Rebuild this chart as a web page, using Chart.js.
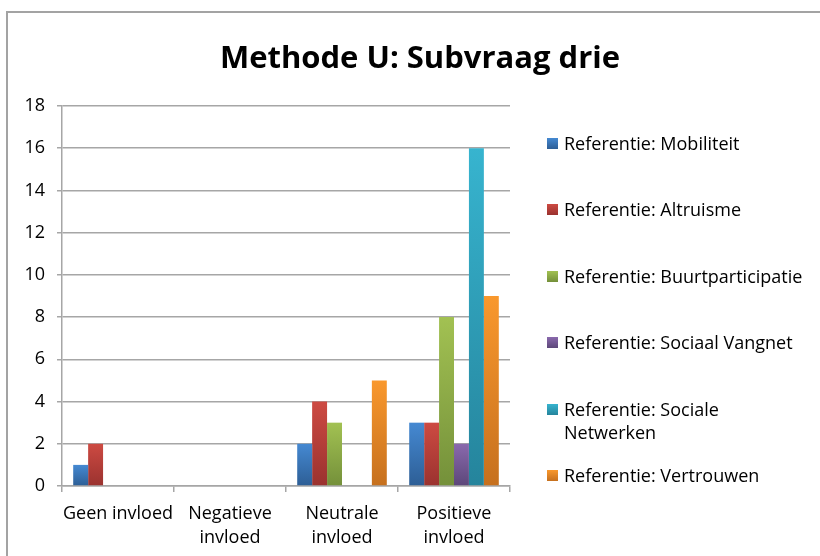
<!DOCTYPE html>
<html>
<head>
<meta charset="utf-8">
<script src="https://cdn.jsdelivr.net/npm/chart.js@4.4.0/dist/chart.umd.min.js"></script>
<style>
    body { margin: 0; background: #fff; overflow: hidden; }
    #wrap { position: relative; width: 820px; height: 556px; overflow: hidden; }
    #frame { position: absolute; left: 6px; top: 11px; width: 900px; height: 700px; border: 2px solid #a3a3a3; box-sizing: border-box; }
    #c { position: absolute; left: 0; top: 0; }
    #title { position: absolute; left: 0; width: 840px; top: 36px; text-align: center; font-family: 'Open Sans', sans-serif; font-weight: bold; font-size: 31px; line-height: 40px; color: #000; }
    #legend { position: absolute; left: 547px; top: 0; font-family: 'Open Sans', sans-serif; font-size: 18px; color: #000; }
    .item { position: absolute; left: 0; width: 270px; }
    .sw { position: absolute; left: 0; top: 1px; width: 11px; height: 11px; }
    .txt { position: absolute; left: 17px; top: -5px; width: 246px; line-height: 23px; }
</style>
</head>
<body>
<div id="wrap">
    <div id="frame"></div>
    <canvas id="c" width="820" height="556"></canvas>
    <div id="title">Methode U: Subvraag drie</div>
    <div id="legend"></div>
</div>
<script>
// Data
const categories = ['Geen invloed', ['Negatieve', 'invloed'], ['Neutrale', 'invloed'], ['Positieve', 'invloed']];
const seriesNames = [
    'Referentie: Mobiliteit',
    'Referentie: Altruisme',
    'Referentie: Buurtparticipatie',
    'Referentie: Sociaal Vangnet',
    'Referentie: Sociale Netwerken',
    'Referentie: Vertrouwen'
];
const mobiliteit = [1, 0, 2, 3];
const altruisme = [2, 0, 4, 3];
const buurtparticipatie = [0, 0, 3, 8];
const sociaalVangnet = [0, 0, 0, 2];
const socialeNetwerken = [0, 0, 0, 16];
const vertrouwen = [0, 0, 5, 9];
const yTicks = [0, 2, 4, 6, 8, 10, 12, 14, 16, 18];

// top / bottom gradient colours per series
const colors = [
    ['#4589d2', '#2d5e95'],
    ['#cd4a42', '#9a322f'],
    ['#a2c152', '#74903a'],
    ['#8a69ad', '#5c4779'],
    ['#37b4cf', '#25849c'],
    ['#f9982d', '#c6701e']
];
const seriesValues = [mobiliteit, altruisme, buurtparticipatie, sociaalVangnet, socialeNetwerken, vertrouwen];

function barGradient(ctx, i) {
    const chart = ctx.chart;
    const ys = chart.scales.y;
    if (!chart.chartArea || !ys || ctx.raw === undefined) return colors[i][0];
    const top = ys.getPixelForValue(ctx.raw);
    const bottom = ys.getPixelForValue(0);
    if (!(bottom > top)) return colors[i][0];
    const g = chart.ctx.createLinearGradient(0, top, 0, bottom);
    g.addColorStop(0, colors[i][0]);
    g.addColorStop(1, colors[i][1]);
    return g;
}

const datasets = seriesNames.map((name, i) => ({
    label: name,
    data: seriesValues[i],
    backgroundColor: (ctx) => barGradient(ctx, i),
    borderWidth: 0,
    categoryPercentage: 0.8,
    barPercentage: 1.0
}));

const tickFont = { family: "'Open Sans', sans-serif", size: 18, lineHeight: '24px' };

new Chart(document.getElementById('c'), {
    type: 'bar',
    data: { labels: categories, datasets: datasets },
    options: {
        responsive: false,
        animation: false,
        layout: { padding: { left: 0, right: 310, top: 106, bottom: 0 } },
        plugins: {
            legend: { display: false },
            tooltip: { enabled: false }
        },
        scales: {
            y: {
                min: 0,
                max: 18,
                afterBuildTicks: (axis) => { axis.ticks = yTicks.map(v => ({ value: v })); },
                afterFit: (axis) => { axis.width = 62; },
                grid: { color: '#a6a6a6', lineWidth: 1.5, tickLength: 5, drawTicks: true },
                border: { display: true, color: '#a6a6a6', width: 1.5 },
                ticks: { color: '#000', font: tickFont, padding: 12 }
            },
            x: {
                afterFit: (axis) => { axis.height = 70; },
                grid: { drawOnChartArea: false, drawTicks: true, tickLength: 6, offset: true, color: '#a6a6a6', lineWidth: 1.5 },
                border: { display: true, color: '#a6a6a6', width: 1.5 },
                ticks: { color: '#000', font: tickFont, padding: 10, maxRotation: 0, autoSkip: false }
            }
        }
    }
});

// Legend
const legend = document.getElementById('legend');
seriesNames.forEach((name, i) => {
    const item = document.createElement('div');
    item.className = 'item';
    item.style.top = (137 + i * 66.4) + 'px';
    const sw = document.createElement('div');
    sw.className = 'sw';
    sw.style.background = 'linear-gradient(' + colors[i][0] + ',' + colors[i][1] + ')';
    const txt = document.createElement('div');
    txt.className = 'txt';
    txt.textContent = name;
    item.appendChild(sw);
    item.appendChild(txt);
    legend.appendChild(item);
});
</script>
</body>
</html>
